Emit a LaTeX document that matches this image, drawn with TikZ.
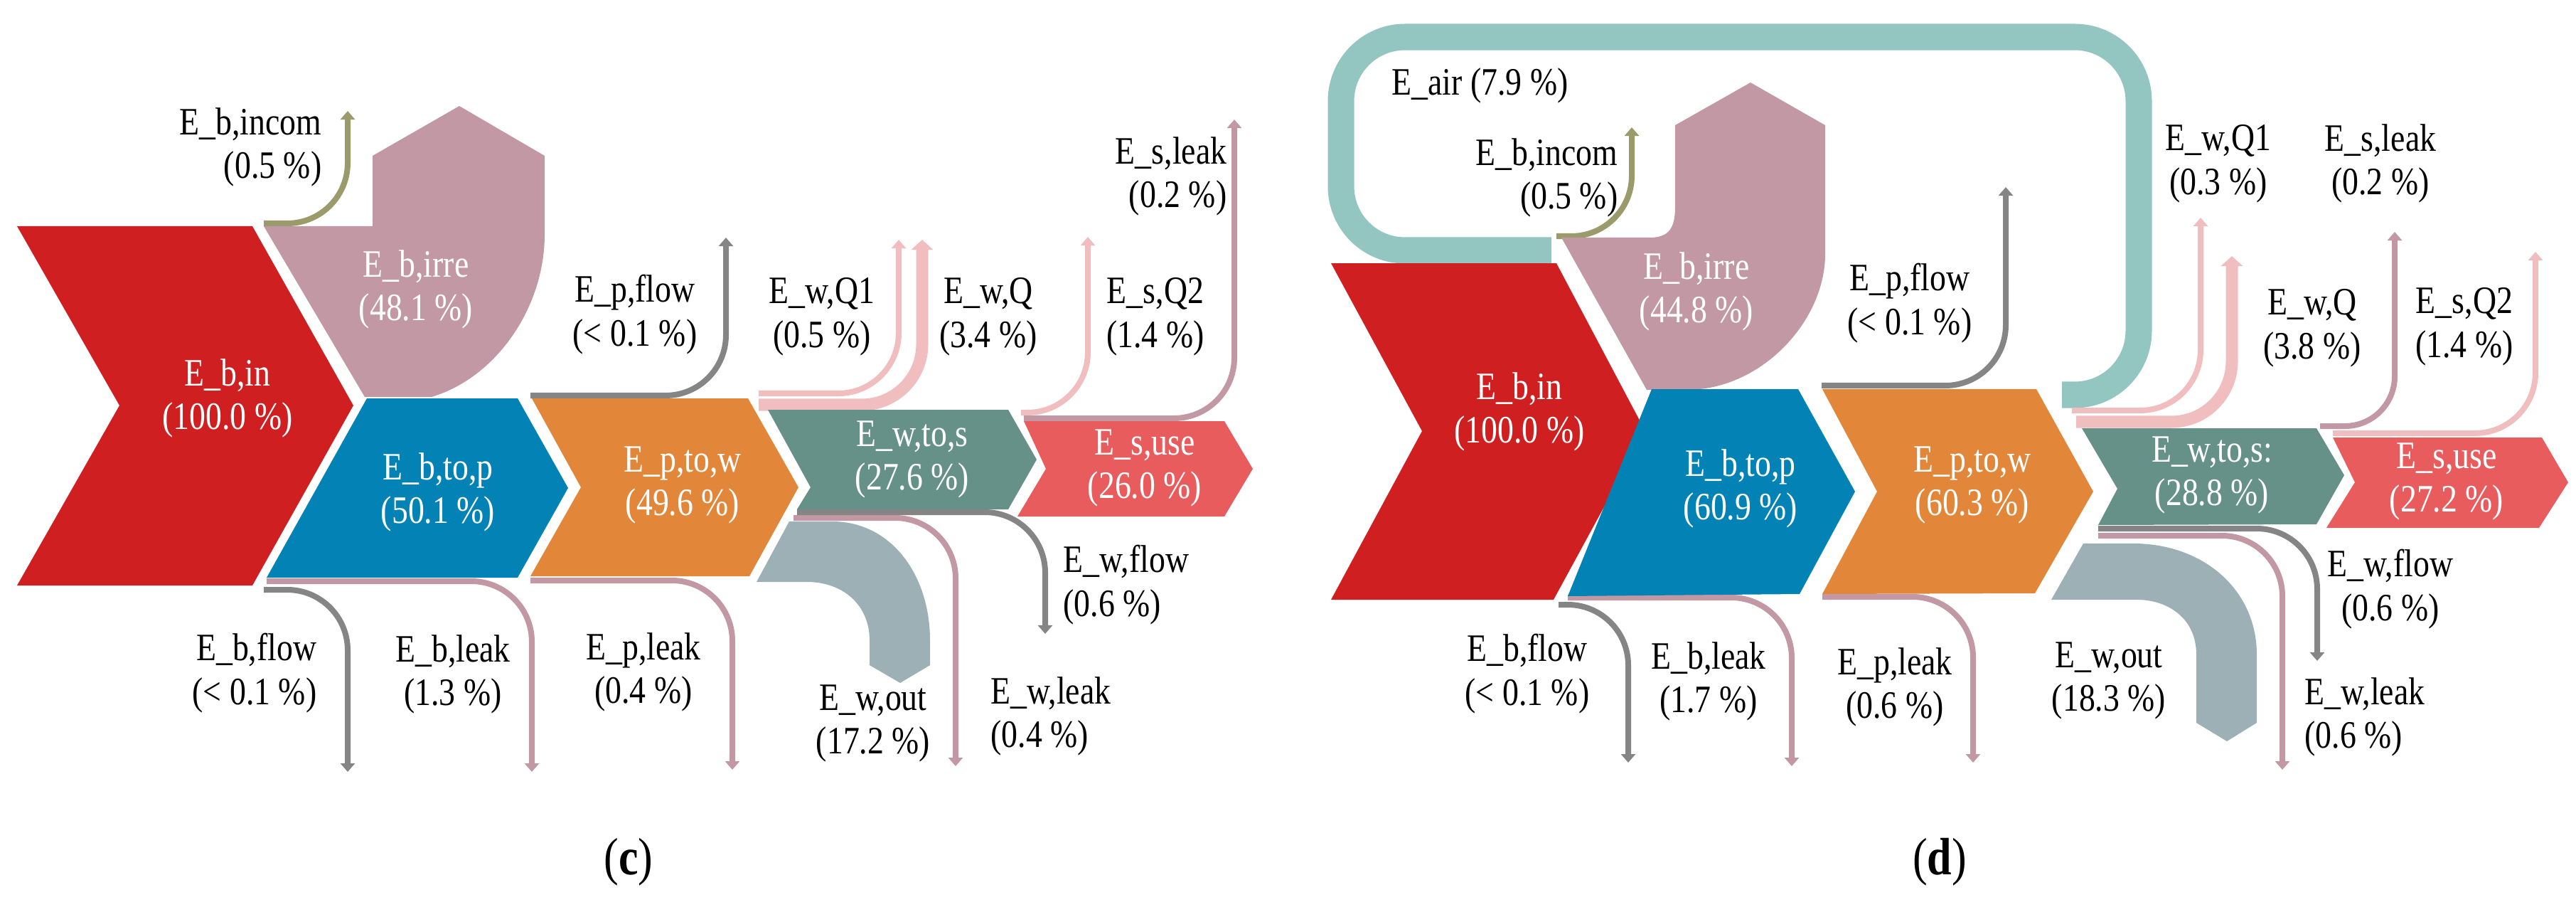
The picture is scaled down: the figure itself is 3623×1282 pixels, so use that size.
\documentclass[tikz,border=0pt]{standalone}
\usepackage{fontspec}
\setmainfont{Liberation Serif}[FakeStretch=0.84]
\usetikzlibrary{arrows.meta}
\definecolor{cRed}{HTML}{D01F20}
\definecolor{cMauve}{HTML}{C198A4}
\definecolor{cBlue}{HTML}{0383B5}
\definecolor{cOrange}{HTML}{E2873A}
\definecolor{cTeal}{HTML}{659189}
\definecolor{cUse}{HTML}{E85C5E}
\definecolor{cGray}{HTML}{858585}
\definecolor{cPink}{HTML}{F0BEBE}
\definecolor{cOlive}{HTML}{9B9A6B}
\definecolor{cOut}{HTML}{9CB0B6}
\definecolor{cAir}{HTML}{93C6C0}
\begin{document}
\begin{tikzpicture}[x=0.01cm,y=-0.01cm,
  lab/.style={font=\fontsize{15.5}{17.5}\selectfont,align=center,inner sep=0pt,text=black},
  wlab/.style={lab,text=white},
  flow/.style={line width=0.08cm,rounded corners=0.85cm,-{Triangle[width=0.2cm,length=0.12cm]}},
  gflow/.style={flow,draw=cGray},
  mflow/.style={flow,draw=cMauve},
  pflow/.style={flow,draw=cPink},
  oflow/.style={flow,draw=cOlive},
  band/.style={flow,draw=cPink,line width=0.17cm,-{Triangle[width=0.3cm,length=0.14cm]}}]
\useasboundingbox (0,0) rectangle (3623,1282);
% ================= panel (c) =================
\draw[oflow] (371,314) -- (489,314) -- (489,156);
\draw[gflow] (746,556) -- (1021,556) -- (1021,334);
\draw[pflow] (1067,553) -- (1264,553) -- (1264,337);
\draw[band] (1067,569) -- (1297,569) -- (1297,337);
\draw[pflow] (1436,580) -- (1530,580) -- (1530,333);
\draw[mflow] (1440,588) -- (1736,588) -- (1736,168);
\draw[gflow] (371,829) -- (489,829) -- (489,1085);
\draw[mflow] (375,817) -- (748,817) -- (748,1085);
\draw[mflow] (746,816) -- (1030,816) -- (1030,1082);
\draw[mflow] (1116,728) -- (1344,728) -- (1344,1077);
\draw[gflow] (1121,720) -- (1470,720) -- (1470,891);
\fill[cOut] (1110,733) -- (1170,733) .. controls (1255,733) and (1308,810) .. (1308,900) -- (1308,935) -- (1266,960) -- (1223,935) -- (1223,900) .. controls (1223,850) and (1185,818) .. (1135,818) -- (1064,818) -- cycle;
\fill[cRed] (24,318) -- (355,318) -- (497,570) -- (355,823) -- (24,823) -- (168,570) -- cycle;
\fill[cMauve] (371,318) -- (524,318) -- (524,219) -- (646,149) -- (766,219) -- (766,330) .. controls (766,430) and (700,530) .. (607,558) -- (513,558) -- cycle;
\fill[cBlue] (516,560) -- (728,560) -- (799,686) -- (728,812) -- (375,812) -- cycle;
\fill[cOrange] (748,560) -- (1052,560) -- (1123,685) -- (1054,810) -- (746,810) -- (817,685) -- cycle;
\fill[cTeal] (1080,576) -- (1418,576) -- (1458,646) -- (1418,716) -- (1121,716) -- (1140,685) -- cycle;
\fill[cUse] (1440,592) -- (1722,592) -- (1762,659) -- (1722,726) -- (1431,726) -- (1471,659) -- cycle;
\node[lab,anchor=east,align=right] (c-incom) at (453,207) {E\_b,incom\\(0.5 \%)};
\node[wlab] (c-irre) at (585,407) {E\_b,irre\\(48.1 \%)};
\node[wlab] (c-in) at (320,560) {E\_b,in\\(100.0 \%)};
\node[wlab] (c-btop) at (616,692) {E\_b,to,p\\(50.1 \%)};
\node[wlab] (c-ptow) at (960,682) {E\_p,to,w\\(49.6 \%)};
\node[wlab] (c-wtos) at (1283,646) {E\_w,to,s\\(27.6 \%)};
\node[wlab] (c-suse) at (1610,658) {E\_s,use\\(26.0 \%)};
\node[lab] (c-pflow) at (893,442) {E\_p,flow\\(< 0.1 \%)};
\node[lab] (c-wq1) at (1156,445) {E\_w,Q1\\(0.5 \%)};
\node[lab] (c-wq) at (1390,445) {E\_w,Q\\(3.4 \%)};
\node[lab] (c-sq2) at (1625,445) {E\_s,Q2\\(1.4 \%)};
\node[lab,anchor=east,align=right] (c-sleak) at (1726,248) {E\_s,leak\\(0.2 \%)};
\node[lab,anchor=east,align=right] (c-bflow) at (446,946) {E\_b,flow\\(< 0.1 \%)};
\node[lab] (c-bleak) at (637,948) {E\_b,leak\\(1.3 \%)};
\node[lab] (c-pleak) at (905,945) {E\_p,leak\\(0.4 \%)};
\node[lab] (c-wout) at (1228,1017) {E\_w,out\\(17.2 \%)};
\node[lab,anchor=west,align=left] (c-wleak) at (1393,1007) {E\_w,leak\\(0.4 \%)};
\node[lab,anchor=west,align=left] (c-wflow) at (1495,822) {E\_w,flow\\(0.6 \%)};
\node[lab,font=\fontsize{21}{24}\selectfont] (c-cap) at (884,1212) {(\textbf{c})};
% ================= panel (d) =================
\draw[cAir,line width=0.37cm,rounded corners=0.9cm] (2182,352) -- (1886,352) -- (1886,52) -- (3008,52) -- (3008,555) -- (2900,555);
\draw[oflow] (2189,332) -- (2295,332) -- (2295,179);
\draw[gflow] (2562,542) -- (2821,542) -- (2821,263);
\draw[pflow] (2914,577) -- (3095,577) -- (3095,306);
\draw[band] (2920,593) -- (3139,593) -- (3139,360);
\draw[mflow,rounded corners=0.7cm] (3263,599) -- (3368,599) -- (3368,326);
\draw[pflow] (3281,609) -- (3566,609) -- (3566,354);
\draw[gflow] (2192,850) -- (2290,850) -- (2290,1072);
\draw[mflow] (2205,840) -- (2520,840) -- (2520,1077);
\draw[mflow] (2563,839) -- (2775,839) -- (2775,1072);
\draw[mflow] (2951,753) -- (3210,753) -- (3210,1082);
\draw[gflow] (2951,743) -- (3259,743) -- (3259,929);
\fill[cOut] (2930,764) -- (3000,764) .. controls (3100,764) and (3174,830) .. (3174,920) -- (3174,1016) -- (3132,1042) -- (3089,1016) -- (3089,920) .. controls (3089,870) and (3050,843) .. (3005,843) -- (2885,843) -- cycle;
\fill[cRed] (1872,370) -- (2189,370) -- (2314,606) -- (2185,843) -- (1872,843) -- (2000,606) -- cycle;
\fill[cMauve] (2196,334) -- (2320,334) .. controls (2348,334) and (2356,320) .. (2356,290) -- (2356,176) -- (2462,116) -- (2567,176) -- (2567,357) .. controls (2567,450) and (2480,545) .. (2377,548) -- (2316,548) -- cycle;
\fill[cBlue] (2323,547) -- (2529,547) -- (2609,691) -- (2531,835) -- (2205,838) -- cycle;
\fill[cOrange] (2563,547) -- (2864,547) -- (2944,691) -- (2862,834) -- (2563,835) -- (2640,691) -- cycle;
\fill[cTeal] (2928,602) -- (3258,602) -- (3297,668) -- (3258,737) -- (2951,738) -- (2978,687) -- cycle;
\fill[cUse] (3281,615) -- (3575,615) -- (3612,678) -- (3571,742) -- (3272,742) -- (3312,678) -- cycle;
\node[lab,anchor=west] (d-air) at (1957,120) {E\_air (7.9 \%)};
\node[lab,anchor=east,align=right] (d-incom) at (2276,250) {E\_b,incom\\(0.5 \%)};
\node[wlab] (d-irre) at (2386,410) {E\_b,irre\\(44.8 \%)};
\node[wlab] (d-in) at (2137,579) {E\_b,in\\(100.0 \%)};
\node[wlab] (d-btop) at (2448,687) {E\_b,to,p\\(60.9 \%)};
\node[wlab] (d-ptow) at (2774,682) {E\_p,to,w\\(60.3 \%)};
\node[wlab] (d-wtos) at (3111,668) {E\_w,to,s:\\(28.8 \%)};
\node[wlab] (d-suse) at (3441,677) {E\_s,use\\(27.2 \%)};
\node[lab] (d-pflow) at (2686,426) {E\_p,flow\\(< 0.1 \%)};
\node[lab] (d-wq1) at (3120,230) {E\_w,Q1\\(0.3 \%)};
\node[lab] (d-sleak) at (3348,230) {E\_s,leak\\(0.2 \%)};
\node[lab] (d-wq) at (3252,461) {E\_w,Q\\(3.8 \%)};
\node[lab] (d-sq2) at (3466,459) {E\_s,Q2\\(1.4 \%)};
\node[lab] (d-bflow) at (2148,947) {E\_b,flow\\(< 0.1 \%)};
\node[lab] (d-bleak) at (2403,958) {E\_b,leak\\(1.7 \%)};
\node[lab] (d-pleak) at (2665,966) {E\_p,leak\\(0.6 \%)};
\node[lab] (d-wout) at (2966,957) {E\_w,out\\(18.3 \%)};
\node[lab,anchor=west,align=left] (d-wleak) at (3241,1008) {E\_w,leak\\(0.6 \%)};
\node[lab,anchor=west] (d-wflow) at (3273,828) {E\_w,flow\\(0.6 \%)};
\node[lab,font=\fontsize{21}{24}\selectfont] (d-cap) at (2728,1212) {(\textbf{d})};
\end{tikzpicture}
\end{document}
